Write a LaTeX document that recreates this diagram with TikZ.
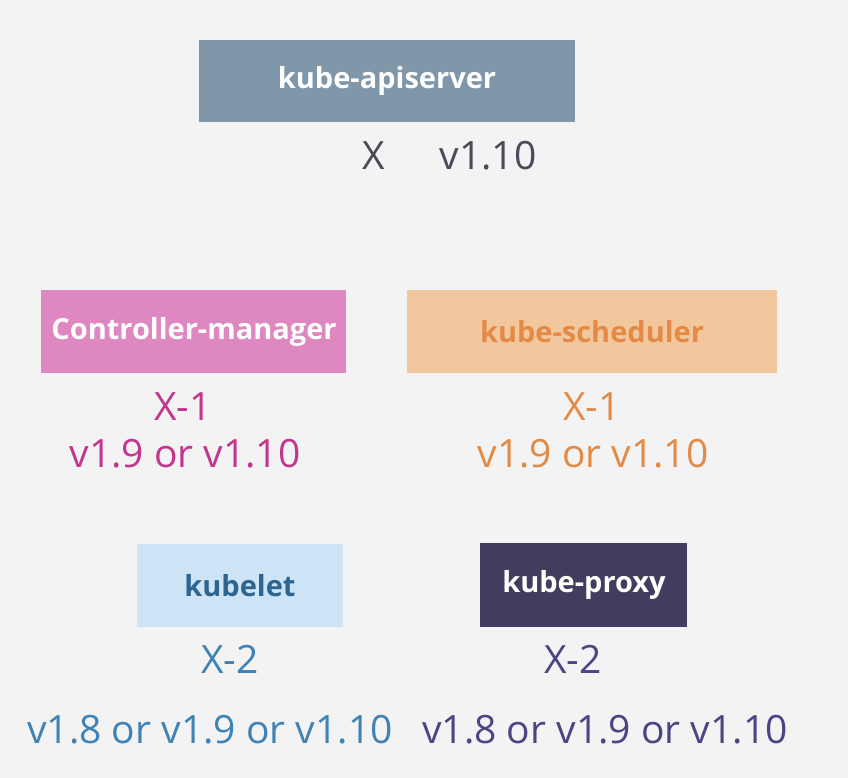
\documentclass[tikz,border=0pt]{standalone}
\usepackage{fontspec}
\setmainfont{Open Sans}
\begin{document}
\begin{tikzpicture}[x=1pt,y=-1pt]
\definecolor{bg}{HTML}{F3F3F3}
\definecolor{apifill}{HTML}{7F97A8}
\definecolor{apitext}{HTML}{4A4A58}
\definecolor{cmfill}{HTML}{DE87C0}
\definecolor{cmtext}{HTML}{C2368E}
\definecolor{schfill}{HTML}{F3C79D}
\definecolor{schtext}{HTML}{E38B46}
\definecolor{klfill}{HTML}{CCE4F6}
\definecolor{klbold}{HTML}{2E6590}
\definecolor{kltext}{HTML}{3F82B5}
\definecolor{kpfill}{HTML}{403D5E}
\definecolor{kptext}{HTML}{4A4583}
\tikzset{
  comp/.style={inner sep=0pt, font=\fontsize{29}{34}\selectfont\bfseries},
  ver/.style={inner sep=0pt, font=\fontsize{39}{46}\selectfont, anchor=base}
}
\fill[bg] (0,0) rectangle (848,778);
\useasboundingbox (0,0) rectangle (848,778);
% boxes
\fill[apifill] (199,40) rectangle (575,122);
\node[comp, text=white] (api) at (387,81) {kube-apiserver};
\fill[cmfill] (41,290) rectangle (346,373);
\node[comp, text=white] (cm) at (194,331.5) {Controller-manager};
\fill[schfill] (407,290) rectangle (777,373);
\node[comp, text=schtext] (sch) at (592,331.5) {kube-scheduler};
\fill[klfill] (137,544) rectangle (343,627);
\node[comp, text=klbold] (kl) at (240,585.5) {kubelet};
\fill[kpfill] (480,543) rectangle (687,627);
\node[comp, text=white] (kp) at (584,585) {kube-proxy};
% versions
\node[ver, text=apitext] (apix) at (374,170) {X};
\node[ver, text=apitext] (apiv) at (488,170) {v1.10};
\node[ver, text=cmtext] (cmx) at (183,420) {X-1};
\node[ver, text=cmtext] (cmv) at (185,467) {v1.9 or v1.10};
\node[ver, text=schtext] (schx) at (592,420) {X-1};
\node[ver, text=schtext] (schv) at (593,467) {v1.9 or v1.10};
\node[ver, text=kltext] (klx) at (230,673) {X-2};
\node[ver, text=kltext] (klv) at (210,743) {v1.8 or v1.9 or v1.10};
\node[ver, text=kptext] (kpx) at (573,673) {X-2};
\node[ver, text=kptext] (kpv) at (605,743) {v1.8 or v1.9 or v1.10};
\end{tikzpicture}
\end{document}
